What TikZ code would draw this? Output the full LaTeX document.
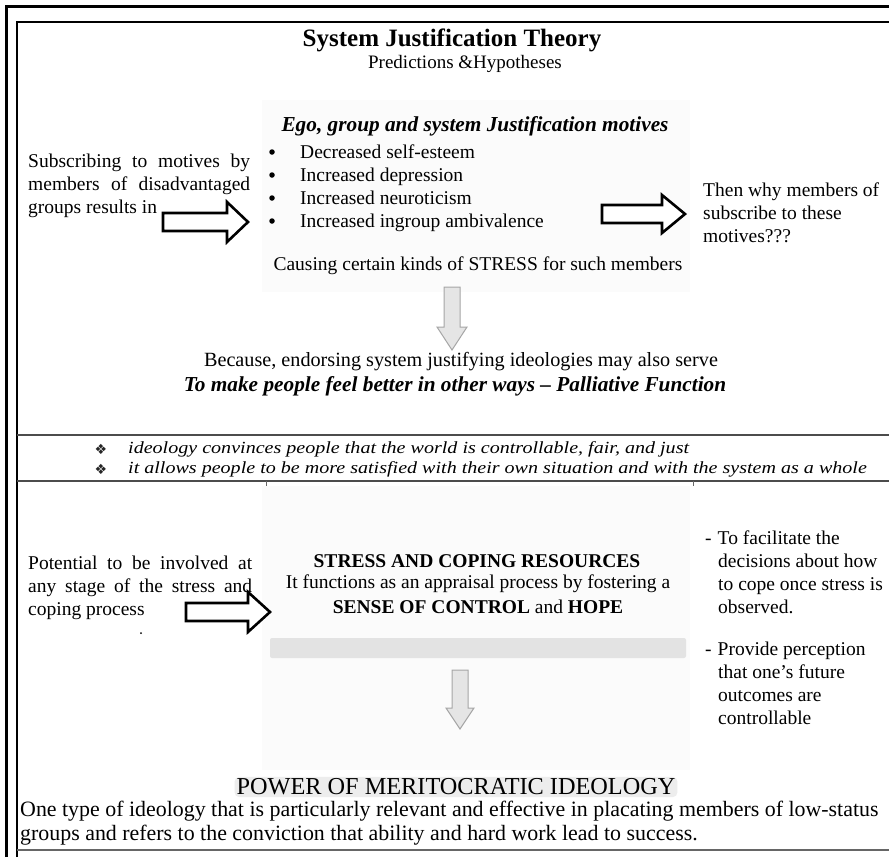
\documentclass[tikz,border=0pt]{standalone}
\usepackage{graphicx}
\usepackage{fontspec}
\setmainfont{Liberation Serif}
\newfontfamily\dejavu{DejaVu Sans}
\begin{document}
\begin{tikzpicture}[x=1pt,y=-1pt,
  txt/.style={font=\fontsize{19.5}{23}\selectfont, inner sep=0pt},
  ital/.style={font=\fontsize{17}{20}\selectfont\itshape, inner sep=0pt, anchor=west},
  hollow/.style={draw=black, line width=2.6pt, fill=white, line join=miter},
  downarr/.style={draw=gray!70, line width=1pt, fill=gray!20, line join=miter},
  dotb/.style={circle, fill=black, inner sep=0pt, minimum size=5.5pt},
  diam/.style={font=\dejavu\fontsize{14}{15}\selectfont, inner sep=0pt, text=black!85},
]
\useasboundingbox (0,0) rectangle (889,857);
\fill[white] (0,0) rectangle (889,857);
% faint panels
\fill[gray!3] (262,100) rectangle (690,292);
\fill[gray!3] (262,486) rectangle (690,770);
% frames
\draw[line width=3pt] (6.5,857) -- (6.5,6.5) -- (889,6.5);
\draw[line width=1.8pt] (17,857) -- (17,22) -- (889,22);
\draw[line width=2pt, black!70] (17,435) -- (889,435);
\draw[line width=2pt, black!70] (17,481) -- (889,481);
\draw[line width=1.5pt, black!60] (17,850) -- (889,850);
\draw[line width=0.6pt, black!60] (266,481) -- (266,486);
\draw[line width=0.6pt, black!60] (693,481) -- (693,486);

% title
\node[txt, font=\fontsize{25}{28}\selectfont\bfseries] (title) at (452,40) {System Justification Theory};
\node[txt, font=\fontsize{19}{22}\selectfont] (sub) at (465,64) {Predictions \&Hypotheses};

% upper block
\node[txt, font=\fontsize{21.3}{25}\selectfont\bfseries\itshape] (ego) at (475,126) {Ego, group and system Justification motives};
\foreach \i/\t in {0/Decreased self-esteem,1/Increased depression,2/Increased neuroticism,3/Increased ingroup ambivalence}{
  \node[dotb] (b\i) at (272,{152+23*\i}) {};
  \node[txt, anchor=base west] (l\i) at (300,{158+23*\i}) {\t};
}
\node[txt, anchor=north west, align=left] (left1) at (28,154) {\makebox[222pt][s]{Subscribing to motives by}\\\makebox[222pt][s]{members of disadvantaged}\\groups results in};
\node[txt, anchor=north west, align=left] (right1) at (703,183) {Then why members of\\subscribe to these\\motives???};
\node[txt] (cause) at (478,266) {Causing certain kinds of STRESS for such members};

% hollow arrows
\draw[hollow] (163,213) -- (227,213) -- (227,202) -- (248,222) -- (227,242) -- (227,231) -- (163,231) -- cycle;
\draw[hollow] (602,205) -- (662,205) -- (662,195) -- (685,214) -- (662,233) -- (662,223) -- (602,223) -- cycle;

% down arrow 1
\draw[downarr] (444,287) -- (460,287) -- (460,327) -- (467,327) -- (452,350) -- (437,327) -- (444,327) -- cycle;

\node[txt, font=\fontsize{20.2}{24}\selectfont] (because) at (461,362) {Because, endorsing system justifying ideologies may also serve};
\node[txt, font=\fontsize{21.3}{25}\selectfont\bfseries\itshape] (pall) at (455,386) {To make people feel better in other ways -- Palliative Function};

% middle bullets
\node[diam] (d1) at (101,449) {❖};
\node[diam] (d2) at (101,469) {❖};
\node[ital] (i1) at (128,449) {\scalebox{1.18}[1]{ideology convinces people that the world is controllable, fair, and just}};
\node[ital] (i2) at (128,469) {\scalebox{1.18}[1]{it allows people to be more satisfied with their own situation and with the system as a whole}};

% lower block
\node[txt, anchor=north west, align=left] (left2) at (28,556) {\makebox[224pt][s]{Potential to be involved at}\\\makebox[224pt][s]{any stage of the stress and}\\coping process};
\fill (141,633) circle (1pt);
\draw[hollow] (186,603) -- (248,603) -- (248,592) -- (270,612) -- (248,632) -- (248,621) -- (186,621) -- cycle;

\node[txt, font=\fontsize{19.5}{23}\selectfont\bfseries] (stress) at (477,561) {STRESS AND COPING RESOURCES};
\node[txt] (func) at (478,584) {It functions as an appraisal process by fostering a};
\node[txt] (sense) at (478,607) {\textbf{SENSE OF CONTROL} and \textbf{HOPE}};
\fill[gray!22, rounded corners=2pt] (270,638) rectangle (686,658);

\draw[downarr] (452,670) -- (468,670) -- (468,708) -- (474,708) -- (460,729) -- (446,708) -- (452,708) -- cycle;

\node[txt, anchor=north west, align=left] (r2a) at (705,531) {-\hspace{6pt}To facilitate the\\\hspace{13pt}decisions about how\\\hspace{13pt}to cope once stress is\\\hspace{13pt}observed.};
\node[txt, anchor=north west, align=left] (r2b) at (705,642) {-\hspace{6pt}Provide perception\\\hspace{13pt}that one’s future\\\hspace{13pt}outcomes are\\\hspace{13pt}controllable};

% bottom
\node[txt, font=\fontsize{24.3}{27}\selectfont, fill=gray!14, rounded corners=5pt, inner sep=2pt] (power) at (456,787) {POWER OF MERITOCRATIC IDEOLOGY};
\node[txt, font=\fontsize{21.9}{24}\selectfont, anchor=north west, align=left] (one) at (20,801) {One type of ideology that is particularly relevant and effective in placating members of low-status\\groups and refers to the conviction that ability and hard work lead to success.};
\end{tikzpicture}
\end{document}
